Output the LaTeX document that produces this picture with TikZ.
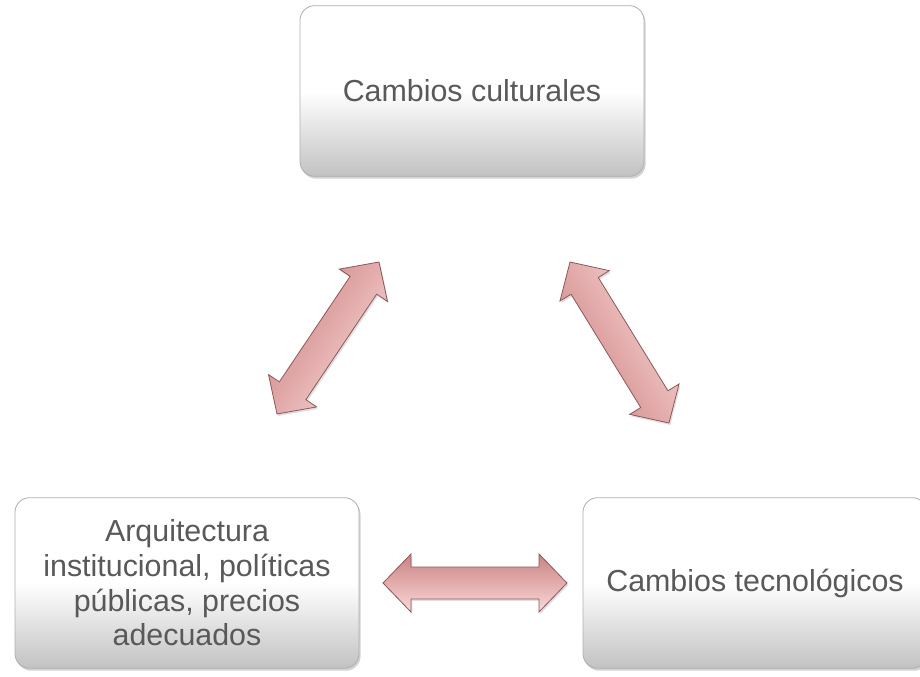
\documentclass[tikz,border=0pt]{standalone}
\usepackage{fontspec}
\setmainfont{Liberation Sans}
\usetikzlibrary{calc,shadows}

\definecolor{boxtext}{RGB}{89,89,89}
\definecolor{boxline}{RGB}{175,175,175}
\definecolor{arrowdark}{RGB}{200,132,132}
\definecolor{arrowmid}{RGB}{228,172,172}
\definecolor{arrowlight}{RGB}{247,218,218}
\definecolor{arrowedge}{RGB}{140,88,88}

% fat double arrow from #1 to #2, shading turned by #3
\newcommand{\fatarrow}[3]{%
\shadedraw[fatarrow, shading angle=#3]
  (#1) -- ($(#1)!30.2pt!46:(#2)$) -- ($(#1)!24.2pt!29.7:(#2)$)
  -- ($(#2)!24.2pt!-29.7:(#1)$) -- ($(#2)!30.2pt!-46:(#1)$)
  -- (#2) -- ($(#2)!30.2pt!46:(#1)$) -- ($(#2)!24.2pt!29.7:(#1)$)
  -- ($(#1)!24.2pt!-29.7:(#2)$) -- ($(#1)!30.2pt!-46:(#2)$) -- cycle;}

\begin{document}
\begin{tikzpicture}[x=0.75pt, y=0.75pt,
  box/.style={rectangle, rounded corners=11pt, draw=boxline, line width=0.6pt,
    minimum width=258pt, minimum height=128pt, align=center,
    top color=white, bottom color=black!24, middle color=white,
    text=boxtext, font=\fontsize{22.8}{26}\selectfont,
    drop shadow={opacity=0.35, shadow xshift=1.2pt, shadow yshift=-1.8pt}},
  fatarrow/.style={top color=arrowdark, bottom color=arrowlight, middle color=arrowmid,
    draw=arrowedge, line width=0.6pt, line join=miter,
    drop shadow={opacity=0.25, shadow xshift=1pt, shadow yshift=-1.5pt}}]
\useasboundingbox (0,0) rectangle (920,676);

% Boxes
\node[box] (cul) at (472,585) {Cambios culturales};
\node[box] (arq) at (187,93) {Arquitectura\\ institucional, políticas\\ públicas, precios\\ adecuados};
\node[box] (tec) at (755,93) {Cambios tecnológicos};

% Arrow ends
\coordinate (al1) at (277,262);
\coordinate (al2) at (379,414);
\coordinate (ar1) at (570,414);
\coordinate (ar2) at (669,253);
\coordinate (ab1) at (383,93);
\coordinate (ab2) at (567,93);

% Arrows
\fatarrow{al1}{al2}{56}
\fatarrow{ar1}{ar2}{121}
\fatarrow{ab1}{ab2}{0}
\end{tikzpicture}
\end{document}
